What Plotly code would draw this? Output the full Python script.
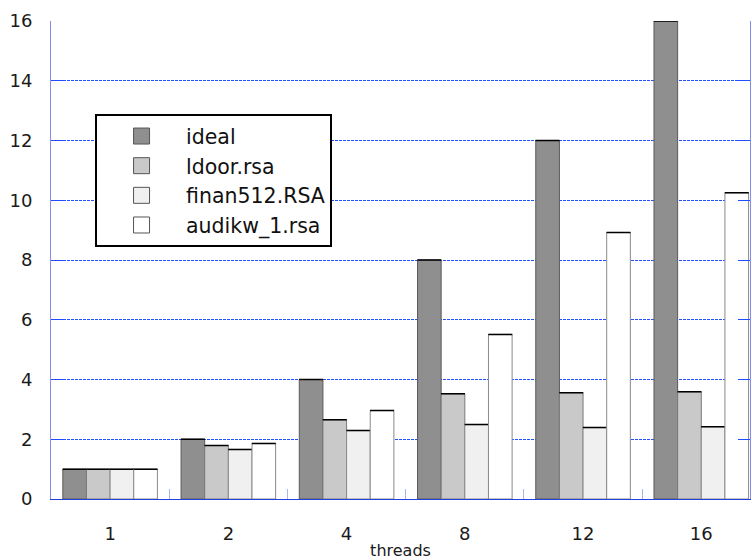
import plotly.graph_objects as go

threads = ["1", "2", "4", "8", "12", "16"]
ideal = [1, 2, 4, 8, 12, 16]
ldoor = [1.0, 1.79, 2.65, 3.52, 3.56, 3.59]
finan512 = [1.0, 1.66, 2.29, 2.49, 2.39, 2.42]
audikw_1 = [1.0, 1.86, 2.96, 5.51, 8.92, 10.25]

series = [
    ("ideal", ideal, "#8f8f8f", "#5a5a5a"),
    ("ldoor.rsa", ldoor, "#c9c9c9", "#7a7a7a"),
    ("finan512.RSA", finan512, "#f0f0f0", "#8a8a8a"),
    ("audikw_1.rsa", audikw_1, "#ffffff", "#8a8a8a"),
]

FONT = "DejaVu Sans"
fig = go.Figure()
for name, vals, fill, edge in series:
    fig.add_trace(go.Bar(
        x=threads, y=vals, name=name, showlegend=False,
        marker=dict(color=fill, line=dict(color=edge, width=1)),
        error_y=dict(type="data", array=[0] * len(vals), visible=True,
                     width=12, thickness=1.5, color="black"),
    ))
# legend entries with larger square swatches
for name, vals, fill, edge in series:
    fig.add_trace(go.Scatter(
        x=[None], y=[None], name=name, mode="markers",
        marker=dict(symbol="square", size=16, color=fill,
                    line=dict(color="#555555", width=1)),
    ))

xr = [-0.5, 5.412]
fig.update_layout(
    width=752, height=560,
    margin=dict(l=51, r=1, t=21, b=59),
    paper_bgcolor="white", plot_bgcolor="white",
    barmode="group", bargap=0.2, bargroupgap=0,
    font=dict(family=FONT, size=18, color="#1a1a1a"),
    legend=dict(
        x=0.063, y=0.805, xanchor="left", yanchor="top",
        bgcolor="white", bordercolor="black", borderwidth=2,
        font=dict(family=FONT, size=20.5, color="#111"),
        itemwidth=79, itemsizing="trace", traceorder="normal",
    ),
    xaxis=dict(
        type="category", categoryorder="array", categoryarray=threads,
        range=xr, showline=True, linecolor="#2040e0", linewidth=1,
        ticks="inside", tickson="boundaries", ticklen=10,
        tickcolor="#a8b4f4", tickwidth=1, showgrid=False,
        ticklabelstandoff=18,
        title=dict(text="threads", font=dict(family=FONT, size=16), standoff=4),
    ),
    xaxis2=dict(
        overlaying="x", side="top", type="linear", range=xr,
        tickmode="array", tickvals=[0.5, 1.5, 2.5, 3.5, 4.5],
        ticks="inside", ticklen=10, tickcolor="#a8b4f4", tickwidth=1,
        showticklabels=False, showgrid=False, showline=False, zeroline=False,
    ),
    yaxis=dict(
        range=[0, 16], dtick=2, showline=True, linecolor="#8090f0",
        linewidth=1, mirror="ticks", ticks="inside", ticklen=12,
        tickcolor="#1f4cff", tickwidth=1,
        showgrid=True, gridcolor="#2250ff", griddash="3px,1px", gridwidth=1,
        zeroline=False, ticklabelstandoff=14,
    ),
)
fig.write_html("out.html")
